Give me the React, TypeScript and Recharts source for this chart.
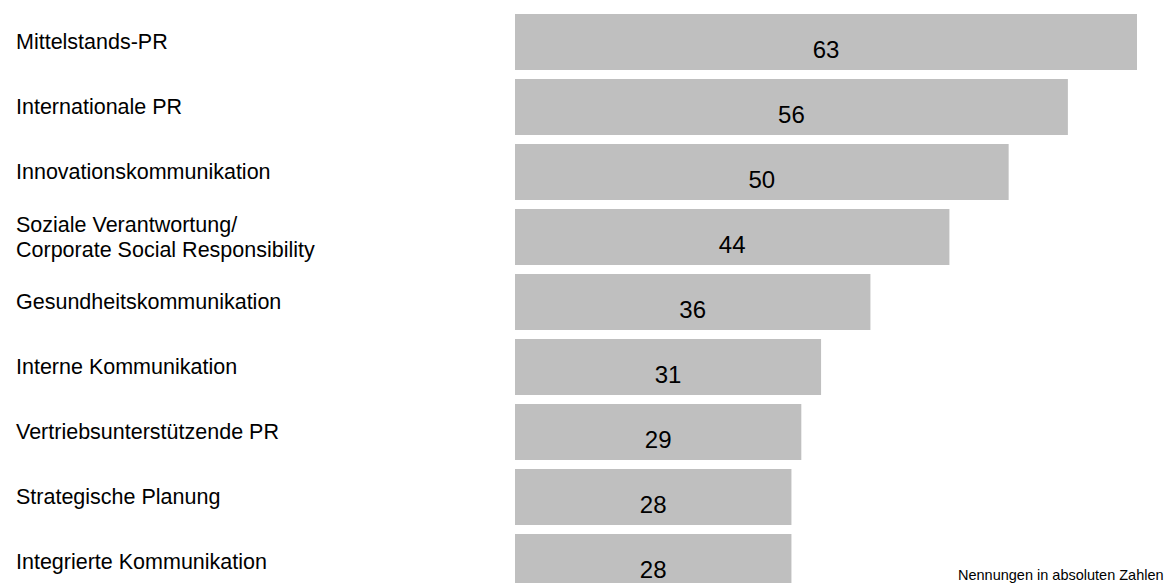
import React from 'react';
import { BarChart, Bar, XAxis, YAxis, LabelList } from 'recharts';

// Kategorien (Zeilenumbruch mit \n)
const categories = [
    'Mittelstands-PR',
    'Internationale PR',
    'Innovationskommunikation',
    'Soziale Verantwortung/\nCorporate Social Responsibility',
    'Gesundheitskommunikation',
    'Interne Kommunikation',
    'Vertriebsunterstützende PR',
    'Strategische Planung',
    'Integrierte Kommunikation',
];

// Nennungen in absoluten Zahlen
const mentions = [63, 56, 50, 44, 36, 31, 29, 28, 28];

const footnote = 'Nennungen in absoluten Zahlen';

const FONT = '"Liberation Sans", Arial, Helvetica, sans-serif';

const data = categories.map((name, i) => ({ name, value: mentions[i] }));

const CategoryTick = (props: any) => {
    const { y, payload } = props;
    const lines = String(payload.value).split('\n');
    const lineHeight = 25;
    const first = y + 7.5 - ((lines.length - 1) * lineHeight) / 2;
    return (
        <text x={16} y={first} fill="#000" fontSize={21.5} fontFamily={FONT} textAnchor="start">
            {lines.map((line, i) => (
                <tspan key={i} x={16} y={first + i * lineHeight}>
                    {line}
                </tspan>
            ))}
        </text>
    );
};

const ValueLabel = (props: any) => {
    const { x, y, width, height, value } = props;
    return (
        <text
            x={x + width / 2}
            y={y + height / 2 + 16}
            fill="#000"
            fontSize={24}
            fontFamily={FONT}
            textAnchor="middle"
        >
            {value}
        </text>
    );
};

const App: React.FC = () => {
    return (
        <div style={{ position: 'absolute', left: 0, top: 0, width: 1170, height: 583, overflow: 'hidden', background: '#fff' }}>
            <BarChart
                width={1170}
                height={594}
                data={data}
                layout="vertical"
                margin={{ top: 9, right: 33, bottom: 0, left: 0 }}
            >
                <XAxis type="number" domain={[0, 63]} hide />
                <YAxis
                    type="category"
                    dataKey="name"
                    width={515}
                    axisLine={false}
                    tickLine={false}
                    tick={<CategoryTick />}
                    interval={0}
                />
                <Bar dataKey="value" fill="#bfbfbf" barSize={56} isAnimationActive={false}>
                    <LabelList dataKey="value" content={<ValueLabel />} />
                </Bar>
            </BarChart>
            <div
                style={{
                    position: 'absolute',
                    left: 958,
                    top: 568,
                    fontFamily: FONT,
                    fontSize: 14.5,
                    lineHeight: '15px',
                    color: '#000',
                    whiteSpace: 'nowrap',
                }}
            >
                {footnote}
            </div>
        </div>
    );
};

export default App;
